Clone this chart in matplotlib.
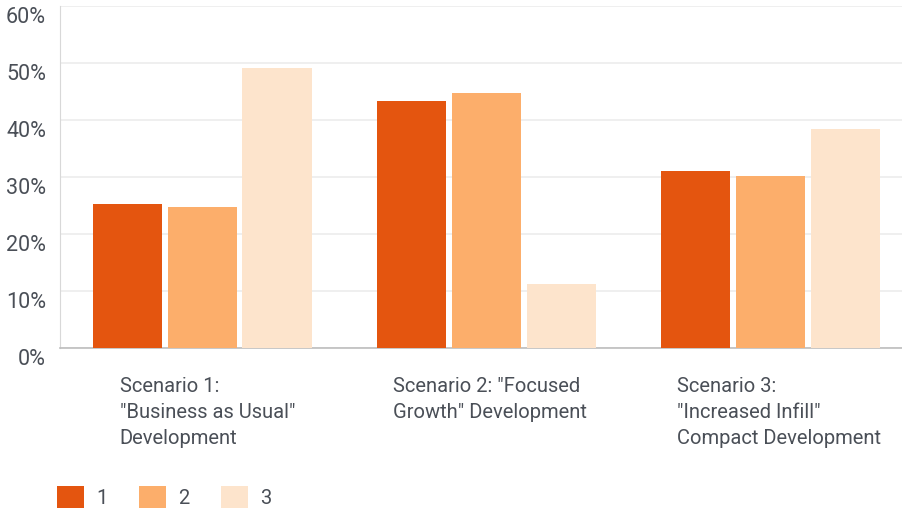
import matplotlib.pyplot as plt
import matplotlib.transforms as mtransforms
from matplotlib.patches import Patch
import numpy as np

plt.rcParams['font.family'] = ['Roboto', 'DejaVu Sans']

scenarios = ['Scenario 1:\n"Business as Usual"\nDevelopment',
             'Scenario 2: "Focused\nGrowth" Development',
             'Scenario 3:\n"Increased Infill"\nCompact Development']
rank1 = [25.3, 43.3, 31.0]
rank2 = [24.7, 44.7, 30.2]
rank3 = [49.2, 11.3, 38.4]
series_names = ['1', '2', '3']
colors = ['#e4550f', '#fcae6b', '#fde4cc']
txt = '#4a4f57'

fig = plt.figure(figsize=(9.03, 5.21), dpi=100)
ax = fig.add_axes([60 / 903, 173 / 521, 843 / 903, 342 / 521])

x = np.arange(len(scenarios))
w = 0.243
step = 0.264
for i, vals in enumerate([rank1, rank2, rank3]):
    ax.bar(x + (i - 1) * step, vals, width=w, color=colors[i], zorder=3)

ax.set_ylim(0, 60)
ax.set_xlim(-0.5, 2.468)
ax.set_yticks(range(0, 61, 10))
ax.set_yticklabels([f'{v}%' for v in range(0, 61, 10)])
ax.yaxis.grid(True, color='#ececec', linewidth=1.2, zorder=0)
ax.tick_params(axis='y', length=0, labelsize=15.5, labelcolor=txt, pad=10)
offset = mtransforms.ScaledTranslation(0, -9 / 100, fig.dpi_scale_trans)
for lab in ax.get_yticklabels():
    lab.set_transform(lab.get_transform() + offset)

# category labels sit left-aligned under each group
ax.set_xticks([])
label_shift = [-0.29, -0.326, -0.326]
for xi, name, dx in zip(x, scenarios, label_shift):
    ax.text(xi + dx, -0.084, name, transform=ax.get_xaxis_transform(),
            ha='left', va='top', fontsize=14.5, color=txt, linespacing=1.47)

for s in ['top', 'right']:
    ax.spines[s].set_visible(False)
ax.spines['left'].set_color('#d8d8d8')
ax.spines['bottom'].set_color('#bdbdbd')
ax.spines['bottom'].set_linewidth(1.2)

handles = [Patch(facecolor=c, edgecolor='none') for c in colors]
fig.legend(handles, series_names, loc='center left', bbox_to_anchor=(57 / 903, 24 / 521),
           ncol=3, frameon=False, fontsize=14.5, labelcolor=txt,
           borderpad=0, borderaxespad=0,
           handlelength=1.34, handleheight=1.34, columnspacing=1.58, handletextpad=0.6)

fig.savefig('out.png', dpi=100)
